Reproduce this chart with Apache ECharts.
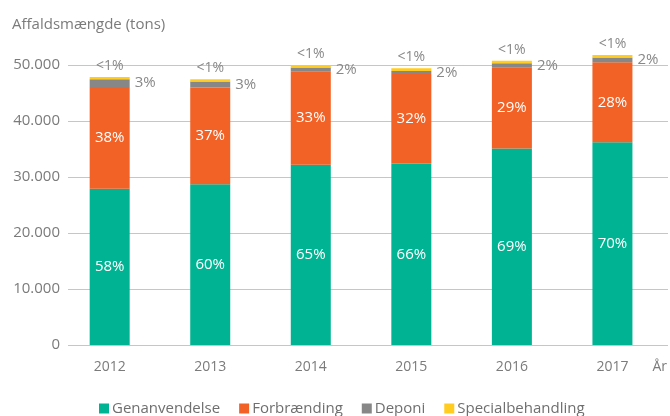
<!DOCTYPE html>
<html>
<head>
<meta charset="utf-8">
<script src="https://cdn.jsdelivr.net/npm/echarts@6/dist/echarts.min.js"></script>
<style>
  html, body { margin: 0; padding: 0; background: #fff; }
  #affald { width: 670px; height: 416px; }
</style>
</head>
<body>
<div id="affald"></div>
<script>
// data (tons)
var years = ['2012', '2013', '2014', '2015', '2016', '2017']
var genanvendelse = [27900, 28700, 32200, 32400, 35100, 36200]
var forbraending = [18150, 17300, 16700, 16000, 14500, 14300]
var deponi = [1400, 1050, 650, 550, 700, 820]
var special = [400, 400, 430, 480, 460, 480]

// procent labels
var pctGen = ['58%', '60%', '65%', '66%', '69%', '70%']
var pctForb = ['38%', '37%', '33%', '32%', '29%', '28%']
var pctDep = ['3%', '3%', '2%', '2%', '2%', '2%']
var pctSpec = ['<1%', '<1%', '<1%', '<1%', '<1%', '<1%']

var yTicks = [0, 10000, 20000, 30000, 40000, 50000]

var font = 'Open Sans'
var grey = '#7b7b7b'

var myChart = echarts.init(document.getElementById('affald'))

function fmt(v) {
  return String(v).replace(/\B(?=(\d{3})+(?!\d))/g, '.')
}

function mkSeries(name, data, color, labels, lbl) {
  return {
    name: name,
    type: 'bar',
    stack: 'total',
    data: data,
    barWidth: 40,
    clip: false,
    xAxisIndex: 0,
    yAxisIndex: 0,
    itemStyle: { color: color },
    label: Object.assign({
      show: true,
      fontFamily: font,
      formatter: function(p) { return labels[p.dataIndex] }
    }, lbl)
  }
}

var option = {
  animation: false,
  color: ['#00b493', '#f26125', '#878787', '#ffcc1f'],
  title: {
    text: 'Affaldsmængde (tons)',
    left: 7,
    top: 12,
    textStyle: { color: grey, fontSize: 15, fontWeight: 'normal', fontFamily: font }
  },
  legend: {
    top: 396,
    left: 94,
    itemWidth: 10,
    itemHeight: 10,
    itemGap: 19,
    icon: 'rect',
    textStyle: { color: '#6f6f6f', fontSize: 15, fontFamily: font, padding: [0, 0, 0, -2] },
    data: ['Genanvendelse', 'Forbrænding', 'Deponi', 'Specialbehandling']
  },
  grid: [
    // bars
    { left: 59.4, right: 3.4, top: 65, bottom: 71 },
    // gridlines + y labels
    { left: 68, right: 2, top: 65, bottom: 71 }
  ],
  xAxis: [{
    type: 'category',
    gridIndex: 0,
    data: years,
    axisLine: { show: false },
    axisTick: { show: false },
    axisLabel: { color: grey, fontSize: 14, fontFamily: font, margin: 15 },
    name: 'År',
    nameLocation: 'end',
    nameGap: -3,
    nameTextStyle: { color: grey, fontSize: 14, fontFamily: font, align: 'center', verticalAlign: 'top', padding: [15, 0, 0, 0] }
  }, {
    type: 'value',
    gridIndex: 1,
    show: false
  }],
  yAxis: [{
    type: 'value',
    gridIndex: 0,
    min: yTicks[0],
    max: yTicks[yTicks.length - 1],
    interval: 10000,
    show: false
  }, {
    type: 'value',
    gridIndex: 1,
    min: yTicks[0],
    max: yTicks[yTicks.length - 1],
    interval: 10000,
    axisLine: { show: false },
    axisTick: { show: false },
    axisLabel: { color: grey, fontSize: 15, fontFamily: font, margin: 8, formatter: fmt },
    splitLine: { lineStyle: { color: '#c6c6c6', width: 1 } }
  }],
  series: [
    mkSeries('Genanvendelse', genanvendelse, '#00b493', pctGen,
      { position: 'inside', color: '#fff', fontSize: 15 }),
    mkSeries('Forbrænding', forbraending, '#f26125', pctForb,
      { position: 'inside', color: '#fff', fontSize: 15 }),
    mkSeries('Deponi', deponi, '#878787', pctDep,
      { position: 'right', distance: 5, color: '#888', fontSize: 15 }),
    mkSeries('Specialbehandling', special, '#ffcc1f', pctSpec,
      { position: 'top', distance: 4, color: '#888', fontSize: 14 })
  ]
}

myChart.setOption(option)
</script>
</body>
</html>
